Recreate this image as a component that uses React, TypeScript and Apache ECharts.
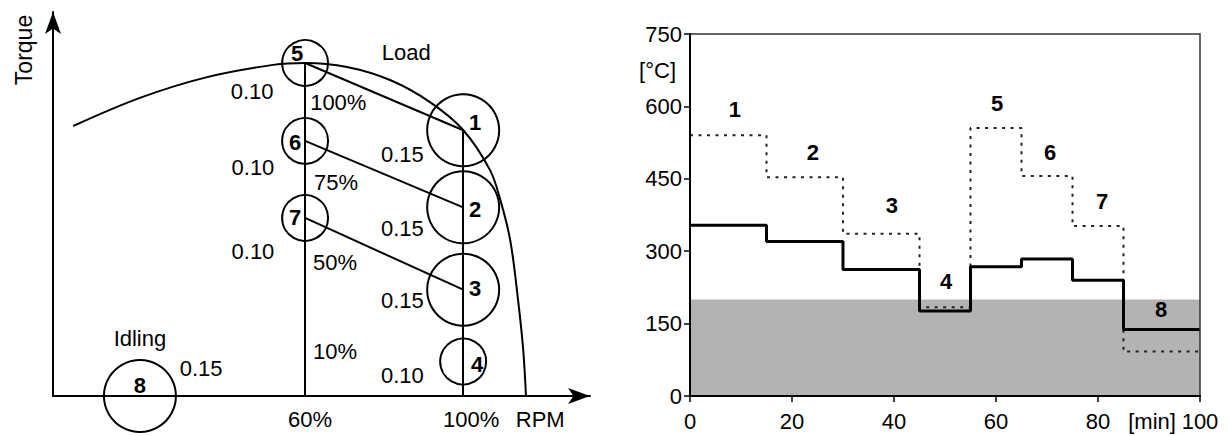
import React, { useEffect, useRef } from 'react';
import * as echarts from 'echarts';

// ---------- Left panel: test-cycle operating points ----------
const nodeIds = ['1', '2', '3', '4', '5', '6', '7', '8'];
const nodeRpm = [100, 100, 100, 100, 60, 60, 60, 18.2];
const nodeTorque = [100, 71, 40, 13, 125.3, 96, 67, 0];
const nodeWeight = [0.15, 0.15, 0.15, 0.1, 0.1, 0.1, 0.1, 0.15];
const weightLabelRpm = [84.6, 84.6, 84.6, 84.6, 46.6, 46.8, 46.8, 33.7];
const weightLabelTorque = [90.7, 63.2, 36.1, 7.9, 114.4, 85.8, 54.2, 10.5];
const loadLevelTexts = ['100%', '75%', '50%', '10%'];
const loadLevelRpm = [68.4, 67.8, 67.6, 67.6];
const loadLevelTorque = [110.6, 80.5, 50.1, 16.6];
const regionTexts = ['Load', 'Idling'];
const regionRpm = [85.6, 18.2];
const regionTorque = [129.1, 21.8];
const linkFrom = ['5', '6', '7'];
const linkTo = ['1', '2', '3'];
const rpmLines = [60, 100];
const curveRpm = [1.3, 18.2, 35.2, 51.9, 60, 70.6, 81.5, 91.6, 100, 106.8, 109.4, 111.9, 113.9, 115.2, 115.9];
const curveTorque = [101.6, 112.2, 120, 124.6, 125.3, 123.8, 118.9, 110.6, 100.1, 85, 73.8, 58.7, 36.1, 17.3, 0];
const rpmTickValues = [60, 100, 119.5];
const rpmTickTexts = ['60%', '100%', 'RPM'];
const rpmMin = -3.8;
const rpmMax = 132.1;
const torqueMax = 144.5;

// ---------- Right panel: temperature over time ----------
const stepTimes = [0, 15, 30, 45, 55, 65, 75, 85, 100];
const engineOutTemp = [540, 453, 336, 184, 555, 456, 352, 92];
const measuredTemp = [354, 320, 262, 176, 268, 284, 240, 138];
const thresholdTemp = 200;
const modeLabelTimes = [8.8, 24.1, 39.6, 50.2, 60.2, 70.6, 80.8, 92.4];
const modeLabelTemps = [594, 505, 394, 238, 605, 505, 402, 180];
const tempTicks = [0, 150, 300, 450, 600, 750];
const timeTicks = [0, 20, 40, 60, 80, 100];
const tempUnitAt = 675;
const timeUnitAt = 90.6;

const FONT = '"Liberation Sans", Arial, Helvetica, sans-serif';
const INK = '#000';
const FS = 22;

const nodeLabelOffset: Record<string, [number, number]> = {
  '1': [12, -8], '2': [12, 2], '3': [12, -1], '4': [14, 3],
  '5': [-8, -10], '6': [-10, 2], '7': [-10, 0], '8': [0, -11],
};

function stepData(values: number[]) {
  const d: number[][] = values.map((v, i) => [stepTimes[i], v]);
  d.push([stepTimes[stepTimes.length - 1], values[values.length - 1]]);
  return d;
}

export default function App() {
  const ref = useRef<HTMLDivElement>(null);
  useEffect(() => {
    if (!ref.current) return;
    const chart = echarts.init(ref.current, null, { renderer: 'svg' });
    const idx = (id: string) => nodeIds.indexOf(id);
    const pt = (id: string) => [nodeRpm[idx(id)], nodeTorque[idx(id)]];

    const textSeries = (name: string, data: any[], size: number, bold = false) => ({
      type: 'scatter', name, xAxisIndex: 0, yAxisIndex: 0, symbolSize: 0, silent: true, clip: false, z: 6,
      data,
      itemStyle: { opacity: 1 },
      label: {
        show: true, position: 'inside', color: INK, fontSize: size, fontFamily: FONT,
        fontWeight: bold ? 'bold' : 'normal', formatter: (p: any) => p.name,
      },
    });

    const option: any = {
      animation: false,
      backgroundColor: '#fff',
      textStyle: { fontFamily: FONT },
      grid: [
        { left: 53, top: 12, width: 537, height: 384, show: false },
        { left: 690, top: 34, width: 510, height: 362, show: true, borderColor: '#333', borderWidth: 1.5, backgroundColor: 'transparent', z: 5 },
      ],
      xAxis: [
        {
          type: 'value', gridIndex: 0, min: rpmMin, max: rpmMax, splitLine: { show: false },
          axisLine: { show: true, onZero: false, symbol: ['none', 'arrow'], symbolSize: [12, 22], lineStyle: { color: INK, width: 2 } },
          axisTick: { show: false },
          axisLabel: {
            show: true, customValues: rpmTickValues, margin: 12, color: INK, fontSize: FS, fontFamily: FONT,
            formatter: (v: number) => {
              const i = rpmTickValues.indexOf(v);
              return i < 2 ? `{s${i}|${rpmTickTexts[i]}}` : rpmTickTexts[i] ?? '';
            },
            rich: {
              s0: { fontSize: FS, fontFamily: FONT, color: INK, padding: [0, 0, 0, 10] },
              s1: { fontSize: FS, fontFamily: FONT, color: INK, padding: [0, 0, 0, 16] },
            },
          },
        },
        {
          type: 'value', gridIndex: 1, min: 0, max: 100, interval: 20, splitLine: { show: false }, z: 6,
          axisLine: { show: true, onZero: false, lineStyle: { color: INK, width: 2 } },
          axisTick: { show: true, customValues: timeTicks, length: 6, lineStyle: { color: INK, width: 1.5 } },
          axisLabel: {
            show: true, customValues: [...timeTicks.slice(0, 5), timeUnitAt, 100], margin: 14, color: INK, fontSize: FS, fontFamily: FONT,
            formatter: (v: number) => (v === timeUnitAt ? '[min]' : String(v)),
          },
        },
      ],
      yAxis: [
        {
          type: 'value', gridIndex: 0, min: 0, max: torqueMax, splitLine: { show: false },
          axisLine: { show: true, onZero: false, symbol: ['none', 'arrow'], symbolSize: [12, 22], lineStyle: { color: INK, width: 2 } },
          axisTick: { show: false }, axisLabel: { show: false },
        },
        {
          type: 'value', gridIndex: 1, min: 0, max: 750, interval: 150, splitLine: { show: false }, z: 6,
          axisLine: { show: true, onZero: false, lineStyle: { color: INK, width: 2 } },
          axisTick: { show: true, customValues: tempTicks, length: 6, lineStyle: { color: INK, width: 1.5 } },
          axisLabel: {
            show: true, customValues: [...tempTicks.slice(0, 5), tempUnitAt, 750], margin: 8, color: INK, fontSize: FS, fontFamily: FONT,
            formatter: (v: number) => (v === tempUnitAt ? '{u|[°C]}' : String(v)),
            rich: { u: { fontSize: FS, fontFamily: FONT, color: INK, padding: [0, 6, 0, 0] } },
          },
        },
      ],
      graphic: [
        {
          type: 'text', x: 24, y: 50, rotation: Math.PI / 2,
          style: { text: 'Torque', font: `${FS + 1}px "Liberation Sans", Arial, sans-serif`, fill: INK, align: 'center', verticalAlign: 'middle' },
        },
      ],
      series: [
        // full-load torque curve
        {
          type: 'line', xAxisIndex: 0, yAxisIndex: 0, smooth: 0.35, showSymbol: false, silent: true,
          data: curveRpm.map((x, i) => [x, curveTorque[i]]),
          lineStyle: { color: INK, width: 2 }, z: 3,
        },
        // vertical speed lines and mode links
        {
          type: 'lines', coordinateSystem: 'cartesian2d', xAxisIndex: 0, yAxisIndex: 0, silent: true, z: 3,
          lineStyle: { color: INK, width: 2, opacity: 1, curveness: 0 },
          data: [
            ...rpmLines.map((r) => ({
              coords: [[r, 0], [r, Math.max(...nodeTorque.filter((_, i) => nodeRpm[i] === r))]],
            })),
            ...linkFrom.map((f, i) => ({ coords: [pt(f), pt(linkTo[i])] })),
          ],
        },
        // operating-point circles
        {
          type: 'scatter', xAxisIndex: 0, yAxisIndex: 0, silent: true, clip: false, z: 4,
          data: nodeIds.map((id, i) => ({
            name: id, value: [nodeRpm[i], nodeTorque[i]],
            symbolSize: 46 + (nodeWeight[i] - 0.1) * 520,
            label: { offset: nodeLabelOffset[id] },
          })),
          symbol: 'circle',
          itemStyle: { color: 'rgba(0,0,0,0)', borderColor: INK, borderWidth: 2, opacity: 1 },
          label: { show: true, position: 'inside', color: INK, fontSize: FS, fontWeight: 'bold', fontFamily: FONT, formatter: (p: any) => p.name },
        },
        textSeries('weights', nodeIds.map((id, i) => ({ name: nodeWeight[i].toFixed(2), value: [weightLabelRpm[i], weightLabelTorque[i]] })), FS),
        textSeries('loads', loadLevelTexts.map((t, i) => ({ name: t, value: [loadLevelRpm[i], loadLevelTorque[i]] })), FS),
        textSeries('regions', regionTexts.map((t, i) => ({ name: t, value: [regionRpm[i], regionTorque[i]] })), FS),

        // right panel: threshold band
        {
          type: 'line', xAxisIndex: 1, yAxisIndex: 1, showSymbol: false, silent: true, z: 1,
          data: [[0, thresholdTemp], [100, thresholdTemp]],
          lineStyle: { width: 0 }, areaStyle: { color: '#b3b3b3', opacity: 1 },
        },
        {
          type: 'line', name: 'engine-out', xAxisIndex: 1, yAxisIndex: 1, step: 'end', showSymbol: false, silent: true, z: 3,
          data: stepData(engineOutTemp),
          lineStyle: { color: '#222', width: 2, type: [3, 5.5] },
        },
        {
          type: 'line', name: 'measured', xAxisIndex: 1, yAxisIndex: 1, step: 'end', showSymbol: false, silent: true, z: 4,
          data: stepData(measuredTemp),
          lineStyle: { color: INK, width: 3 },
        },
        {
          type: 'scatter', xAxisIndex: 1, yAxisIndex: 1, symbolSize: 0, silent: true, z: 6,
          data: nodeIds.map((id, i) => ({ name: id, value: [modeLabelTimes[i], modeLabelTemps[i]] })),
          itemStyle: { opacity: 1 },
          label: { show: true, position: 'inside', color: INK, fontSize: FS, fontWeight: 'bold', fontFamily: FONT, formatter: (p: any) => p.name },
        },
      ],
    };
    chart.setOption(option);
    return () => chart.dispose();
  }, []);
  return <div ref={ref} style={{ position: 'absolute', left: 0, top: 0, width: 1229, height: 436, background: '#fff' }} />;
}
